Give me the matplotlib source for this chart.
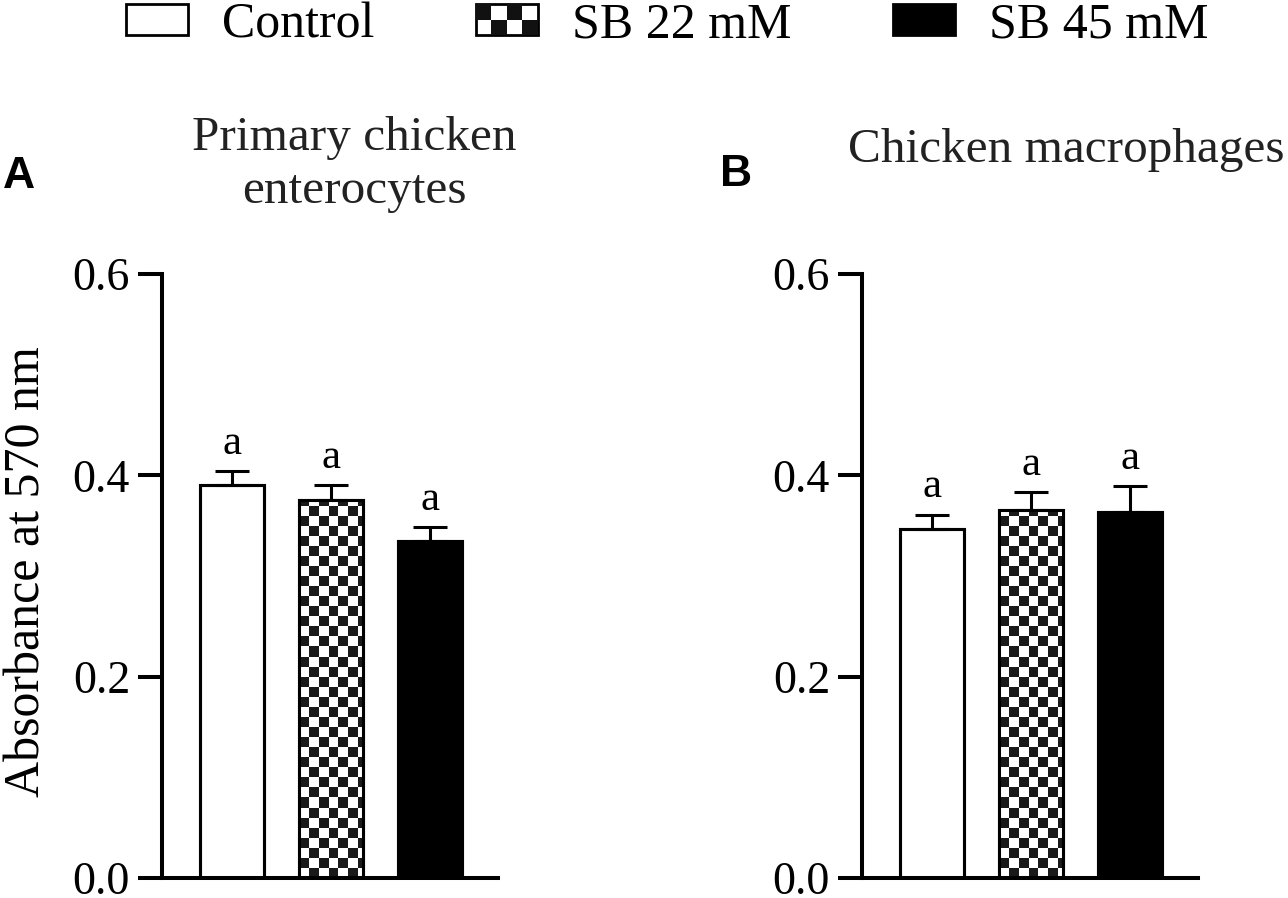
import numpy as np
import matplotlib
matplotlib.use("Agg")
import matplotlib.pyplot as plt
from matplotlib.patches import Rectangle, Patch
from matplotlib.colors import ListedColormap
from matplotlib.legend_handler import HandlerBase

plt.rcParams['font.family'] = ['Liberation Serif', 'DejaVu Serif']

groups = ['Control', 'SB 22 mM', 'SB 45 mM']
ent_mean = [0.390, 0.375, 0.335]
ent_sem = [0.014, 0.015, 0.014]
mac_mean = [0.347, 0.366, 0.364]
mac_sem = [0.014, 0.017, 0.025]
ent_letters = ['a', 'a', 'a']
mac_letters = ['a', 'a', 'a']
yticks = [0.0, 0.2, 0.4, 0.6]
ytick_labels = ['0.0', '0.2', '0.4', '0.6']

LW = 2.9
checker_cmap = ListedColormap(['white', '#1a1a1a'])


class HandlerChecker(HandlerBase):
    # draws a small checkerboard as legend key
    def create_artists(self, legend, orig_handle, xdescent, ydescent,
                       width, height, fontsize, trans):
        x0, y0 = -xdescent, -ydescent
        arts = [Rectangle((x0, y0), width, height, fc='white', ec='black',
                          lw=2, transform=trans)]
        nx, ny = 4, 2
        cw, ch = width / nx, height / ny
        for i in range(nx):
            for j in range(ny):
                if (i + j) % 2 == 1:
                    arts.append(Rectangle((x0 + i * cw, y0 + j * ch), cw, ch,
                                          fc='#111111', ec='none', transform=trans))
        return arts


def draw_panel(ax, means, sems, letters):
    x = np.arange(len(means))
    bars = ax.bar(x, means, width=0.65, color=['white', 'white', 'black'],
                  edgecolor='black', linewidth=2.2, zorder=2)
    # checkerboard fill for the middle bar
    b = bars[1]
    x0, w, h = b.get_x(), b.get_width(), b.get_height()
    nx = int(np.ceil(w / 0.1))
    ny = int(np.ceil(h / 0.01))
    xe = x0 + 0.1 * np.arange(nx + 1)
    ye = 0.01 * np.arange(ny + 1)
    pattern = np.add.outer(np.arange(ny), np.arange(nx)) % 2
    mesh = ax.pcolormesh(xe, ye, pattern, cmap=checker_cmap, shading='flat',
                         antialiased=False, zorder=2.5)
    mesh.set_clip_path(b)
    ax.bar(x, means, width=0.65, fill=False, edgecolor='black', linewidth=2.2, zorder=3)
    ax.errorbar(x, means, yerr=[np.zeros(len(sems)), sems], fmt='none', ecolor='black',
                elinewidth=2.2, capsize=12, capthick=2.2, zorder=4)
    for xi, m, s, t in zip(x, means, sems, letters):
        ax.text(xi, m + s + 0.017, t, ha='center', va='baseline', fontsize=31)

    ax.set_xlim(-0.71, 2.69)
    ax.set_ylim(0, 0.6)
    ax.set_yticks(yticks)
    ax.set_yticklabels(ytick_labels)
    ax.set_xticks([])
    for s in ['top', 'right']:
        ax.spines[s].set_visible(False)
    for s in ['left', 'bottom']:
        ax.spines[s].set_linewidth(LW)
        ax.spines[s].set_capstyle('projecting')
    ax.tick_params(axis='y', length=17, width=LW, pad=6, labelsize=33)


fig = plt.figure(figsize=(12.88, 8.98), dpi=100)
axA = fig.add_axes([162 / 1288, 1 - 878 / 898, 336 / 1288, 604 / 898])
axB = fig.add_axes([862 / 1288, 1 - 878 / 898, 336 / 1288, 604 / 898])

draw_panel(axA, ent_mean, ent_sem, ent_letters)
draw_panel(axB, mac_mean, mac_sem, mac_letters)

axA.set_ylabel('Absorbance at 570 nm', fontsize=36, va='center')
axA.yaxis.set_label_coords((27 - 162) / 336, (878 - 572) / 604)

fig.text(354 / 1288, 1 - 203 / 898, 'Primary chicken\nenterocytes', ha='center',
         va='baseline', fontsize=35.5, color='#222222', linespacing=1.27)
fig.text(1066 / 1288, 1 - 162 / 898, 'Chicken macrophages', ha='center',
         va='baseline', fontsize=35.5, color='#222222')

fig.text(3 / 1288, 1 - 188 / 898, 'A', ha='left', va='baseline', fontsize=32,
         fontweight='bold', family=['Liberation Sans', 'DejaVu Sans'])
fig.text(720 / 1288, 1 - 186 / 898, 'B', ha='left', va='baseline', fontsize=32,
         fontweight='bold', family=['Liberation Sans', 'DejaVu Sans'])

checker_handle = Patch()
handles = [Rectangle((0, 0), 1, 1, fc='white', ec='black', lw=2),
           checker_handle,
           Rectangle((0, 0), 1, 1, fc='black', ec='black', lw=2)]
fig.legend(handles, groups, loc='upper center', bbox_to_anchor=(0.518, 1.026),
           ncol=3, frameon=False, fontsize=36, handlelength=1.25, handleheight=0.58,
           handletextpad=0.68, columnspacing=2.02, borderpad=0,
           handler_map={checker_handle: HandlerChecker()})

fig.savefig('out.png', dpi=100)
